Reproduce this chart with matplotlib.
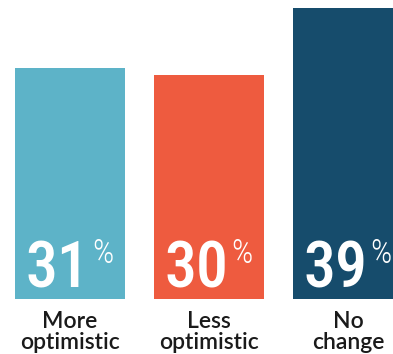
import matplotlib
matplotlib.use("Agg")
import matplotlib.pyplot as plt

categories = ["More\noptimistic", "Less\noptimistic", "No\nchange"]
values = [31, 30, 39]
colors = ["#5DB3C8", "#EE5B3F", "#164C6C"]

NUM_FONT = ["Roboto Condensed", "Open Sans Condensed", "Liberation Sans Narrow",
            "DejaVu Sans Condensed", "DejaVu Sans"]

fig = plt.figure(figsize=(3.93, 3.54), dpi=100)
ax = fig.add_axes([0, 0, 1, 1])
x = list(range(len(values)))
ax.bar(x, values, width=0.79, color=colors)
ax.set_xlim(-0.504, 2.324)
ax.set_ylim(-7.38, 40.13)
ax.axis("off")

for xi, v in zip(x, values):
    ax.annotate(f"{v}", xy=(xi, 0), xytext=(14, 8), textcoords="offset points",
                ha="right", va="baseline", color="white",
                fontsize=46, family=NUM_FONT, fontstretch="condensed", weight="medium")
    ax.annotate("%", xy=(xi, 0), xytext=(16, 44), textcoords="offset points",
                ha="left", va="top", color="white",
                fontsize=24, family=NUM_FONT, fontstretch="condensed", weight="light")
    lines = categories[xi].split("\n")
    for li, line in enumerate(lines):
        ax.annotate(line, xy=(xi, 0), xytext=(0, -21 - li * 15.2), textcoords="offset points",
                    ha="center", va="baseline", color="#1a1a1a",
                    fontsize=16.5, family="Lato", weight="semibold")

fig.savefig("out.png", dpi=100)
